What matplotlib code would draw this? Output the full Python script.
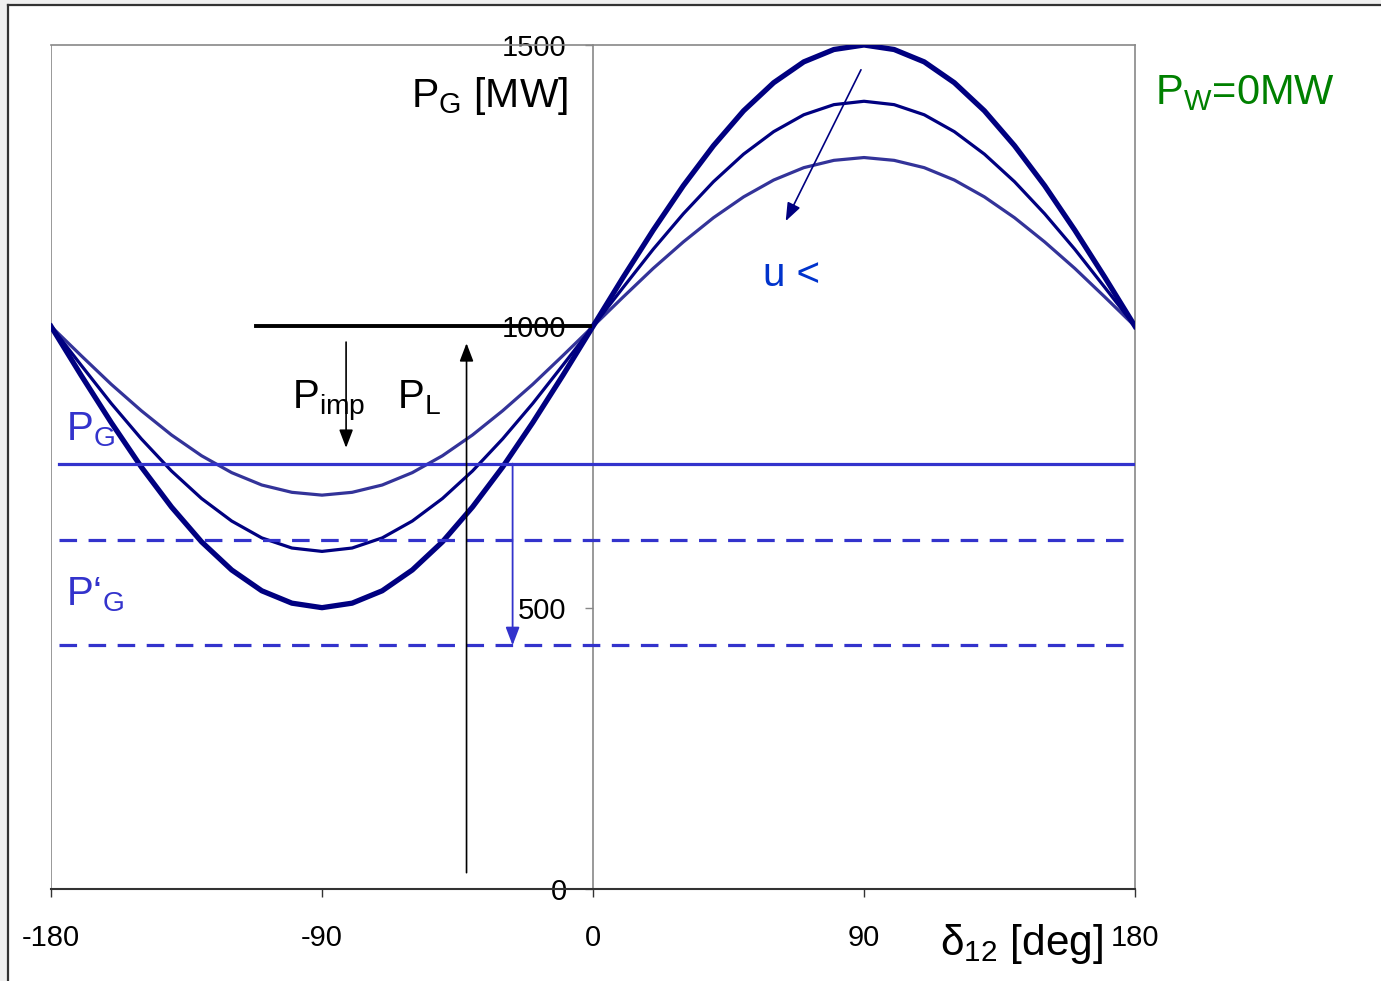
import matplotlib
matplotlib.use('Agg')
import matplotlib.pyplot as plt
from matplotlib.patches import Rectangle
from matplotlib.lines import Line2D

plt.rcParams['font.family'] = ['Liberation Sans', 'DejaVu Sans']
plt.rcParams['mathtext.fontset'] = 'custom'
plt.rcParams['mathtext.rm'] = 'Liberation Sans'
plt.rcParams['mathtext.it'] = 'Liberation Sans:italic'

# power angle delta_12 [deg], sampled every 10 deg
delta = [-180, -170, -160, -150, -140, -130, -120, -110, -100, -90,
         -80, -70, -60, -50, -40, -30, -20, -10, 0,
         10, 20, 30, 40, 50, 60, 70, 80, 90,
         100, 110, 120, 130, 140, 150, 160, 170, 180]

# P_G [MW] for the three voltage levels (highest u first)
pg_high = [1000, 913, 829, 750, 679, 617, 567, 530, 508, 500,
           508, 530, 567, 617, 679, 750, 829, 913, 1000,
           1087, 1171, 1250, 1321, 1383, 1433, 1470, 1492, 1500,
           1492, 1470, 1433, 1383, 1321, 1250, 1171, 1087, 1000]
pg_mid = [1000, 931, 863, 800, 743, 694, 654, 624, 606, 600,
          606, 624, 654, 694, 743, 800, 863, 931, 1000,
          1069, 1137, 1200, 1257, 1306, 1346, 1376, 1394, 1400,
          1394, 1376, 1346, 1306, 1257, 1200, 1137, 1069, 1000]
pg_low = [1000, 948, 897, 850, 807, 770, 740, 718, 705, 700,
          705, 718, 740, 770, 807, 850, 897, 948, 1000,
          1052, 1103, 1150, 1193, 1230, 1260, 1282, 1295, 1300,
          1295, 1282, 1260, 1230, 1193, 1150, 1103, 1052, 1000]

# horizontal levels [MW]
p_load = 1000
p_gen = 756
p_gen_mid = 621
p_gen_new = 433

xticks = [-180, -90, 0, 90, 180]
yticks = [0, 500, 1000, 1500]

fig = plt.figure(figsize=(13.81, 9.81), dpi=100)
fig.patch.set_facecolor('#f0f0f0')
fig.patches.append(Rectangle((8 / 1381, 0), 1, 1 - 5 / 981, transform=fig.transFigure,
                             facecolor='white', edgecolor='none', zorder=-10))
fig.lines.append(Line2D([8 / 1381, 8 / 1381], [0, 1 - 5 / 981], transform=fig.transFigure,
                        color='#333333', lw=1.6, zorder=-5))
fig.lines.append(Line2D([8 / 1381, 1], [1 - 5 / 981, 1 - 5 / 981], transform=fig.transFigure,
                        color='#333333', lw=1.6, zorder=-5))

ax = fig.add_axes([51 / 1381, 1 - 889 / 981, (1135 - 51) / 1381, (889 - 45) / 981])
ax.set_facecolor('white')
ax.set_xlim(-180, 180)
ax.set_ylim(0, 1500)

# frame
for s in ['top', 'right']:
    ax.spines[s].set_color('#888888')
    ax.spines[s].set_linewidth(1.2)
ax.spines['bottom'].set_color('#333333')
ax.spines['bottom'].set_linewidth(1.5)
ax.spines['left'].set_position(('data', 0))
ax.spines['left'].set_color('#888888')
ax.spines['left'].set_linewidth(1.2)
ax.axvline(-180, color='#888888', lw=1.2, zorder=1)

ax.set_xticks(xticks)
ax.set_xticklabels([str(v) for v in xticks])
ax.set_yticks(yticks)
ax.set_yticklabels([str(v) for v in yticks])
ax.tick_params(axis='x', direction='out', length=6, width=1, color='#333333',
               pad=19, labelsize=21)
ax.tick_params(axis='y', direction='out', length=6, width=1, color='#888888',
               pad=13, labelsize=21)

# curves
ax.plot(delta, pg_low, color='#333399', lw=2.3, zorder=3)
ax.plot(delta, pg_mid, color='#000080', lw=2.3, zorder=3)
ax.plot(delta, pg_high, color='#000080', lw=3.8, zorder=3)

# levels
ax.plot([-112, -1], [p_load, p_load], color='black', lw=2.8, zorder=4)
ax.plot([-177.5, 179.5], [p_gen, p_gen], color='#3333cc', lw=2.3, zorder=4)
ax.plot([-177.5, 179.5], [p_gen_mid, p_gen_mid], color='#3333cc', lw=2.3,
        dashes=(5.5, 3.6), zorder=4)
ax.plot([-177.5, 179.5], [p_gen_new, p_gen_new], color='#3333cc', lw=2.3,
        dashes=(5.5, 3.6), zorder=4)

# arrows
head = '-|>,head_length=1.1,head_width=0.42'
ax.annotate('', xy=(-82, 784), xytext=(-82, 972),
            arrowprops=dict(arrowstyle=head, color='black', lw=1.2,
                            shrinkA=0, shrinkB=0), zorder=5)
ax.annotate('', xy=(-42, 970), xytext=(-42, 29),
            arrowprops=dict(arrowstyle=head, color='black', lw=1.2,
                            shrinkA=0, shrinkB=0), zorder=5)
ax.annotate('', xy=(-26.7, p_gen_new), xytext=(-26.7, p_gen),
            arrowprops=dict(arrowstyle=head, color='#3333cc', lw=1.3,
                            shrinkA=0, shrinkB=0), zorder=5)
ax.annotate('', xy=(64, 1187), xytext=(89, 1456),
            arrowprops=dict(arrowstyle=head, color='#000080', lw=1.2,
                            shrinkA=0, shrinkB=0), zorder=5)

# labels
ax.text(-8.3, 1390, r'P$_{\mathrm{G}}$ [MW]', fontsize=29.5, ha='right', va='baseline')
ax.text(186.6, 1395, r'P$_{\mathrm{W}}$=0MW', fontsize=30, color='#008000',
        ha='left', va='baseline', clip_on=False)
ax.text(56.4, 1071, 'u <', fontsize=29, color='#0033cc', ha='left', va='baseline')
ax.text(-99.8, 854, r'P$_{\mathrm{imp}}$', fontsize=29, ha='left', va='baseline')
ax.text(-65, 854, r'P$_{\mathrm{L}}$', fontsize=29, ha='left', va='baseline')
ax.text(-175, 798, r'P$_{\mathrm{G}}$', fontsize=29, color='#3333cc', ha='left', va='baseline')
ax.text(-175, 504, r'P‘$_{\mathrm{G}}$', fontsize=29, color='#3333cc', ha='left', va='baseline')
ax.text(115.4, -117, r'δ$_{\mathrm{12}}$ [deg]', fontsize=30.5, ha='left', va='baseline',
        clip_on=False)

fig.savefig('out.png', dpi=100, facecolor=fig.get_facecolor())
